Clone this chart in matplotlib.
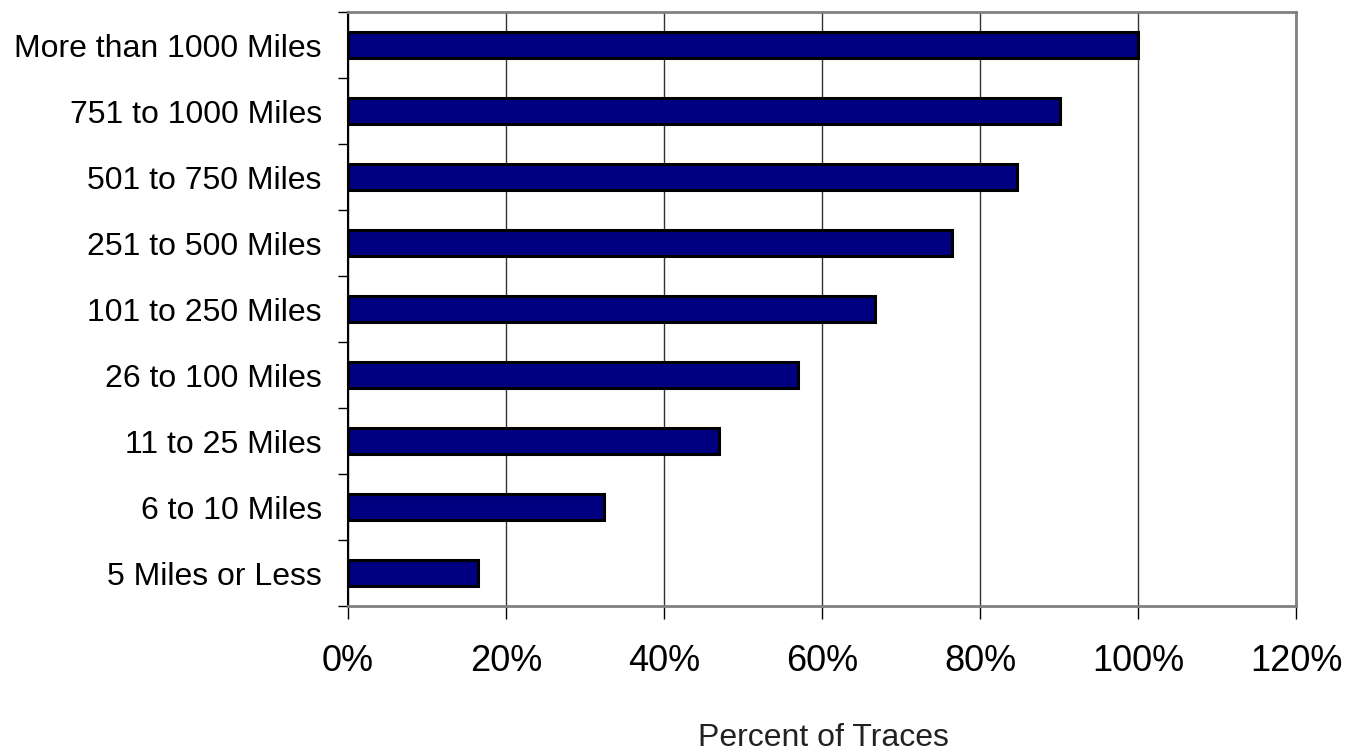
import matplotlib.pyplot as plt
from matplotlib.ticker import FixedLocator, FuncFormatter

# Distance bands, bottom to top
CATEGORIES = ['5 Miles or Less', '6 to 10 Miles', '11 to 25 Miles',
              '26 to 100 Miles', '101 to 250 Miles', '251 to 500 Miles',
              '501 to 750 Miles', '751 to 1000 Miles', 'More than 1000 Miles']
PERCENTS = [0.165, 0.324, 0.469, 0.570, 0.667, 0.765, 0.847, 0.901, 1.000]
X_TICKS = [0.0, 0.2, 0.4, 0.6, 0.8, 1.0, 1.2]
X_LABEL = 'Percent of Traces'


def main():
    plt.rcParams['font.family'] = ['Liberation Sans', 'DejaVu Sans']

    fig = plt.figure(figsize=(13.49, 7.51), dpi=100)
    ax = fig.add_axes([0.258, 0.193, 0.7027, 0.791])

    pos = list(range(len(CATEGORIES)))
    ax.barh(pos, PERCENTS, height=0.4, color='#000080',
            edgecolor='black', linewidth=2.2, zorder=3)

    ax.set_xlim(0, 1.2)
    ax.set_ylim(-0.5, len(CATEGORIES) - 0.5)

    # x axis
    ax.set_xticks(X_TICKS)
    ax.xaxis.set_major_formatter(FuncFormatter(lambda v, p: f'{v * 100:.0f}%'))
    ax.tick_params(axis='x', length=9, width=1, color='black',
                   labelsize=26, pad=18)
    ax.grid(axis='x', color='#333333', linewidth=1, zorder=1)

    # y axis: labels at centers, tick marks at boundaries
    ax.set_yticks(pos)
    ax.set_yticklabels(CATEGORIES)
    ax.tick_params(axis='y', which='major', length=0, labelsize=23, pad=19)
    ax.yaxis.set_minor_locator(FixedLocator([i - 0.5 for i in range(len(CATEGORIES) + 1)]))
    ax.tick_params(axis='y', which='minor', length=7, width=1, color='black')

    for side in ['top', 'right', 'bottom']:
        ax.spines[side].set_color('#808080')
        ax.spines[side].set_linewidth(2)
    ax.spines['left'].set_color('black')
    ax.spines['left'].set_linewidth(1.5)

    fig.text(823 / 1349, 1 - 746 / 751, X_LABEL, ha='center', va='baseline',
             fontsize=23, color='#222222')

    fig.savefig('out.png', dpi=100)


if __name__ == "__main__":
    main()
